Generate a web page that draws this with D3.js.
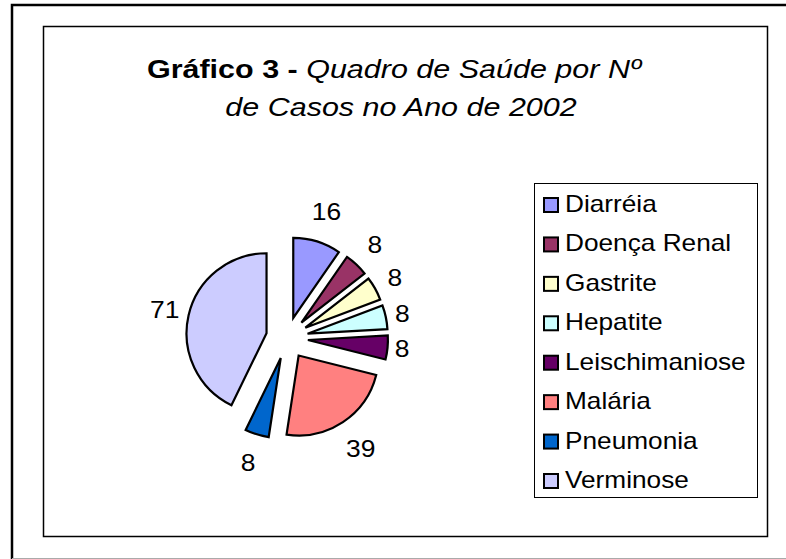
<!DOCTYPE html>
<html><head><meta charset="utf-8">
<script src="https://cdn.jsdelivr.net/npm/d3@7"></script>
<style>html,body{margin:0;padding:0;background:#fff;overflow:hidden;}svg{display:block;font-family:Arial,"Liberation Sans",sans-serif;}</style>
</head><body>
<script>
const categories = ["Diarréia","Doença Renal","Gastrite","Hepatite","Leischimaniose","Malária","Pneumonia","Verminose"];
const values = [16,8,8,8,8,39,8,71];
const colors = ["#9999FF","#993366","#FFFFCC","#CCFFFF","#660066","#FF8080","#0066CC","#CCCCFF"];
const titleBold = "Gráfico 3 - ";
const titleItalic1 = "Quadro de Saúde por Nº";
const titleLine2 = "de Casos no Ano de 2002";

const W = 786, H = 559;
const svg = d3.select("body").append("svg").attr("width", W).attr("height", H);

// frames
svg.append("path").attr("d", "M12,559V5H800").attr("fill","none").attr("stroke","#000").attr("stroke-width",2.5);
svg.append("line").attr("x1",12).attr("x2",800).attr("y1",558.5).attr("y2",558.5).attr("stroke","#aaa").attr("stroke-width",1);
svg.append("rect").attr("x",43.5).attr("y",26.5).attr("width",724).attr("height",510)
  .attr("fill","none").attr("stroke","#000").attr("stroke-width",1.5);

// title
const tsx = 1.22;
const t1 = svg.append("text").attr("transform", `translate(394,78) scale(${tsx},1)`)
  .attr("text-anchor","middle").attr("font-size",25).attr("fill","#000");
t1.append("tspan").attr("font-weight","bold").text(titleBold);
t1.append("tspan").attr("font-style","italic").text(titleItalic1);
svg.append("text").attr("transform", `translate(401,116) scale(${tsx},1)`)
  .attr("text-anchor","middle").attr("font-size",25).attr("font-style","italic").text(titleLine2);

// pie
const cx = 287, cy = 338, r = 80, explode = 21;
const pie = d3.pie().sort(null).value(d => d)(values);
const arc = d3.arc().innerRadius(0).outerRadius(r);
const g = svg.append("g").attr("transform", `translate(${cx},${cy})`);
g.selectAll("path").data(pie).join("path")
  .attr("transform", d => {
    const m = (d.startAngle + d.endAngle) / 2;
    return `translate(${Math.sin(m)*explode},${-Math.cos(m)*explode})`;
  })
  .attr("d", arc)
  .attr("fill", (d,i) => colors[i])
  .attr("stroke", "#000").attr("stroke-width", 2.2).attr("stroke-linejoin","miter");

// labels
const lsx = 1.15, lfs = 23, base = 106, halfH = 23;
g.selectAll("text.lbl").data(pie).join("text").attr("class","lbl")
  .attr("font-size", lfs).attr("text-anchor","middle").attr("dy","0.36em")
  .text(d => d.data)
  .each(function(d){
    const w = this.getComputedTextLength() * lsx;
    const m = (d.startAngle + d.endAngle) / 2;
    const s = Math.sin(m), c = -Math.cos(m);
    const R = base + (w/2)*Math.abs(s) + halfH*Math.abs(c);
    d3.select(this).attr("transform", `translate(${s*R},${c*R}) scale(${lsx},1)`);
  });

// legend
svg.append("rect").attr("x",534.5).attr("y",183.5).attr("width",223).attr("height",314)
  .attr("fill","#fff").attr("stroke","#000").attr("stroke-width",1);
const ly = d3.scalePoint().domain(categories).range([212, 488]);
const lg = svg.append("g").selectAll("g").data(categories).join("g")
  .attr("transform", d => `translate(0,${ly(d)})`);
lg.append("rect").attr("x",544).attr("y",-14).attr("width",14).attr("height",14)
  .attr("fill",(d,i)=>colors[i]).attr("stroke","#000").attr("stroke-width",2);
lg.append("text").attr("transform",`translate(565,0) scale(1.14,1)`).attr("font-size",23).text(d=>d);
</script>
</body></html>
